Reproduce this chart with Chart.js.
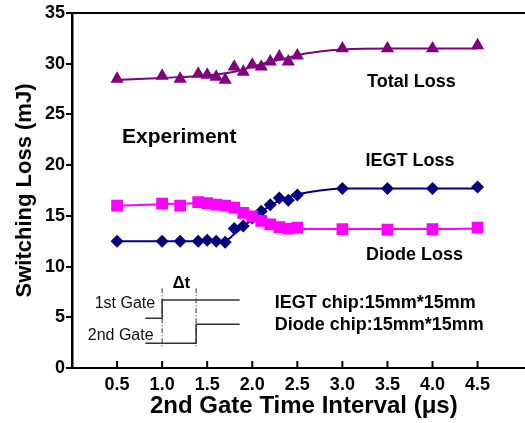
<!DOCTYPE html>
<html><head><meta charset="utf-8">
<script src="https://cdn.jsdelivr.net/npm/chart.js@4"></script>
<style>
html,body{margin:0;padding:0;overflow:hidden;background:#fff;width:525px;height:423px}
#wrap{position:relative;width:544px;height:423px}
</style>
</head><body><div id="wrap"><canvas id="c"></canvas></div>
<script>
// ---- data ----
const xTickValues = [0.5, 1.0, 1.5, 2.0, 2.5, 3.0, 3.5, 4.0, 4.5];
const yTickValues = [0, 5, 10, 15, 20, 25, 30, 35];
const intervals = [0.5, 1.0, 1.2, 1.4, 1.5, 1.6, 1.7, 1.8, 1.9, 2.0, 2.1, 2.2, 2.3, 2.4, 2.5, 3.0, 3.5, 4.0, 4.5];
const totalLoss = [28.5, 28.8, 28.5, 29.0, 28.9, 28.7, 28.4, 29.7, 29.2, 29.9, 29.7, 30.2, 30.7, 30.2, 30.8, 31.5, 31.5, 31.5, 31.8];
const iegtLoss  = [12.5, 12.5, 12.5, 12.5, 12.6, 12.5, 12.4, 13.75, 14.0, 14.8, 15.45, 16.1, 16.75, 16.55, 17.05, 17.7, 17.7, 17.7, 17.85];
const diodeLoss = [16.0, 16.2, 16.0, 16.35, 16.25, 16.1, 16.0, 15.8, 15.3, 14.95, 14.5, 14.15, 13.9, 13.75, 13.85, 13.7, 13.65, 13.7, 13.85];
// fitted curves
const totalFitX = [0.5, 1.0, 1.5, 1.7, 1.8, 2.0, 2.2, 2.4, 2.5, 2.75, 3.0, 3.5, 4.0, 4.5];
const totalFitY = [28.4, 28.6, 28.85, 29.05, 29.2, 29.7, 30.2, 30.6, 30.85, 31.2, 31.4, 31.5, 31.5, 31.5];
const iegtFitX = [0.5, 1.0, 1.5, 1.7, 1.8, 1.9, 2.0, 2.1, 2.2, 2.3, 2.5, 2.75, 3.0, 3.5, 4.0, 4.5];
const iegtFitY = [12.5, 12.5, 12.5, 12.55, 13.2, 13.9, 14.7, 15.4, 16.0, 16.5, 17.1, 17.5, 17.7, 17.7, 17.7, 17.7];
const diodeFitX = [0.5, 1.0, 1.4, 1.6, 1.8, 1.9, 2.0, 2.1, 2.2, 2.3, 2.5, 3.0, 3.5, 4.0, 4.5];
const diodeFitY = [16.0, 16.15, 16.25, 16.1, 15.75, 15.4, 14.9, 14.45, 14.1, 13.85, 13.7, 13.7, 13.7, 13.7, 13.75];

const pts = (xs, ys) => xs.map((v, i) => ({x: v, y: ys[i]}));
const PURPLE = '#800080', NAVY = '#000080', MAGENTA = '#ff00ff';
const FONT = '"Liberation Sans", Arial, sans-serif';

const deco = {
  id: 'deco',
  afterDraw(chart) {
    const {ctx, chartArea: a, scales: {x, y}} = chart;
    const px = v => x.getPixelForValue(v), py = v => y.getPixelForValue(v);
    ctx.save();
    ctx.strokeStyle = '#000';
    ctx.lineWidth = 2;
    ctx.beginPath(); ctx.moveTo(a.left - 1, a.top); ctx.lineTo(a.right, a.top); ctx.stroke();
    xTickValues.forEach(v => {
      ctx.beginPath(); ctx.moveTo(px(v), a.bottom); ctx.lineTo(px(v), a.bottom - 7); ctx.stroke();
    });
    // texts
    ctx.fillStyle = '#000';
    ctx.textBaseline = 'middle';
    const txt = (s, vx, vy, font, align) => {
      ctx.font = font; ctx.textAlign = align; ctx.fillText(s, px(vx), py(vy));
    };
    txt('Total Loss', 3.766, 28.23, 'bold 18px ' + FONT, 'center');
    txt('IEGT Loss', 3.75, 20.44, 'bold 18px ' + FONT, 'center');
    txt('Diode Loss', 3.80, 11.14, 'bold 18px ' + FONT, 'center');
    txt('Experiment', 1.19, 22.75, 'bold 21px ' + FONT, 'center');
    txt('IEGT chip:15mm*15mm', 2.25, 6.38, 'bold 18px ' + FONT, 'left');
    txt('Diode chip:15mm*15mm', 2.25, 4.24, 'bold 18px ' + FONT, 'left');
    txt('\u0394t', 1.213, 8.35, 'bold 17px ' + FONT, 'center');
    ctx.fillStyle = '#111';
    txt('1st Gate', 0.923, 6.31, '16px ' + FONT, 'right');
    txt('2nd Gate', 0.905, 3.19, '16px ' + FONT, 'right');
    // gate schematic
    ctx.strokeStyle = '#333';
    ctx.lineWidth = 1.5;
    const poly = arr => {
      ctx.beginPath();
      arr.forEach((p, i) => i ? ctx.lineTo(px(p[0]), py(p[1])) : ctx.moveTo(px(p[0]), py(p[1])));
      ctx.stroke();
    };
    poly([[0.814, 4.9], [1.0, 4.9], [1.0, 6.7], [1.86, 6.7]]);
    poly([[0.814, 2.44], [1.377, 2.44], [1.377, 4.31], [1.86, 4.31]]);
    ctx.setLineDash([5, 2, 1, 2]);
    ctx.lineWidth = 1;
    poly([[1.0, 7.86], [1.0, 1.94]]);
    poly([[1.377, 7.86], [1.377, 1.94]]);
    ctx.restore();
  }
};

new Chart(document.getElementById('c'), {
  type: 'scatter',
  data: {
    datasets: [
      {label: 'Diode Loss', data: pts(intervals, diodeLoss), pointStyle: 'rect', pointRadius: 8.3, backgroundColor: MAGENTA, borderColor: MAGENTA, pointBorderWidth: 0, showLine: false},
      {label: 'IEGT Loss', data: pts(intervals, iegtLoss), pointStyle: 'rectRot', pointRadius: 6.5, backgroundColor: NAVY, borderColor: NAVY, pointBorderWidth: 0, showLine: false},
      {label: 'Total Loss', data: pts(intervals, totalLoss), pointStyle: 'triangle', pointRadius: 7.6, backgroundColor: PURPLE, borderColor: PURPLE, pointBorderWidth: 0, showLine: false},
      {label: 'Diode fit', data: pts(diodeFitX, diodeFitY), showLine: true, pointRadius: 0, borderColor: MAGENTA, borderWidth: 2, cubicInterpolationMode: 'monotone', fill: false},
      {label: 'IEGT fit', data: pts(iegtFitX, iegtFitY), showLine: true, pointRadius: 0, borderColor: NAVY, borderWidth: 2, cubicInterpolationMode: 'monotone', fill: false},
      {label: 'Total fit', data: pts(totalFitX, totalFitY), showLine: true, pointRadius: 0, borderColor: PURPLE, borderWidth: 2, cubicInterpolationMode: 'monotone', fill: false}
    ]
  },
  options: {
    responsive: true,
    maintainAspectRatio: false,
    animation: false,
    layout: {padding: {top: 13, right: 0, left: 0, bottom: 0}},
    plugins: {legend: {display: false}, tooltip: {enabled: false}},
    scales: {
      x: {
        type: 'linear', min: 0, max: 5.145,
        afterBuildTicks: s => { s.ticks = xTickValues.map(v => ({value: v})); },
        afterFit: s => { s.height = 55; },
        grid: {display: false, drawTicks: false},
        border: {display: true, color: '#000', width: 2},
        ticks: {color: '#000', font: {family: FONT, size: 18, weight: 'bold'}, padding: 6, maxRotation: 0, autoSkip: false,
                callback: v => v.toFixed(1)},
        title: {display: true, text: '2nd Gate Time Interval (\u03bcs)', color: '#000',
                font: {family: FONT, size: 24, weight: 'bold'}, padding: {top: 0, bottom: 2}}
      },
      y: {
        type: 'linear', min: 0, max: 35,
        afterBuildTicks: s => { s.ticks = yTickValues.map(v => ({value: v})); },
        afterFit: s => { s.width = 72; },
        grid: {display: true, drawOnChartArea: false, drawTicks: true, tickLength: 6, lineWidth: 2, color: '#000'},
        border: {display: true, color: '#000', width: 2.5},
        ticks: {color: '#000', font: {family: FONT, size: 18, weight: 'bold'}, padding: 1, autoSkip: false},
        title: {display: true, text: 'Switching Loss (mJ)', color: '#000',
                font: {family: FONT, size: 22, weight: 'bold'}, padding: {top: 12, bottom: 0}}
      }
    }
  },
  plugins: [deco]
});
</script>
</body></html>
